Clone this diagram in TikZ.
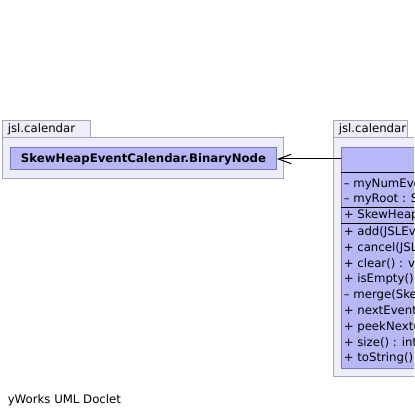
\documentclass[tikz,border=0pt]{standalone}
\usepackage{fontspec}
\setmainfont{DejaVu Sans}
\usepackage{tikz}
\usetikzlibrary{arrows.meta}

\definecolor{pkgfill}{RGB}{238,238,250}
\definecolor{pkgdraw}{RGB}{166,166,190}
\definecolor{clsfill}{RGB}{184,184,248}
\definecolor{clsdraw}{RGB}{120,120,184}

\tikzset{
  pkgshape/.style={draw=pkgdraw, fill=pkgfill, line width=0.75pt},
  clsshape/.style={draw=clsdraw, fill=clsfill, line width=0.75pt},
  classbox/.style={clsshape, inner sep=0pt, font=\fontsize{8.8}{10.5}\selectfont\bfseries},
  member/.style={anchor=west, inner sep=0.75pt, font=\fontsize{8.8}{10.5}\selectfont},
}

\begin{document}
\begin{tikzpicture}[x=0.75pt,y=0.75pt,yscale=-1,xscale=1]
\useasboundingbox (0,0) rectangle (414,416);
\clip (0,0) rectangle (414,416);

%Package: left
\draw [pkgshape] (2.5,120.5) rectangle (90.5,137.5) ;
\draw [pkgshape] (2.5,137.5) rectangle (283.5,178.5) ;
%Package: right
\draw [pkgshape] (333.5,120.5) rectangle (407.5,137.5) ;
\draw [pkgshape] (333.5,137.5) rectangle (760,376.5) ;

%Class: BinaryNode
\node [classbox, anchor=north west, minimum width=199.5pt, minimum height=16.5pt] (binnode) at (10,147.5) {SkewHeapEventCalendar.BinaryNode};

%Class: SkewHeapEventCalendar
\node [classbox, anchor=north west, minimum width=300pt, minimum height=19.5pt] (heapcal) at (341,147) {};
\draw [clsshape] (341,173) rectangle (741,368) ;
\draw [line width=0.75pt] (341,173) -- (741,173) ;
\draw [line width=0.75pt] (341,207) -- (741,207) ;
\draw [line width=0.75pt] (341,223) -- (741,223) ;

%Straight Lines
\draw [line width=0.75pt, -{Straight Barb[length=9.5pt,width=7pt]}] (heapcal.west |- binnode.east) -- (binnode.east) ;

% Text Node
\node [member] (pkgleft) at (6.5,129) {jsl.calendar};
% Text Node
\node [member] (pkgright) at (337.5,129) {jsl.calendar};
% Text Node
\node [member] (fldnum) at (342.5,184) {– myNumEvents : int};
% Text Node
\node [member] (fldroot) at (342.5,199) {– myRoot : SkewHeapEventCalendar.BinaryNode};
% Text Node
\node [member] (ctor) at (342.5,215) {+ SkewHeapEventCalendar()};
% Text Node
\node [member] (madd) at (342.5,232) {+ add(JSLEvent) : void};
% Text Node
\node [member] (mcancel) at (342.5,247.8) {+ cancel(JSLEvent) : void};
% Text Node
\node [member] (mclear) at (342.5,263.6) {+ clear() : void};
% Text Node
\node [member] (mempty) at (342.5,279.4) {+ isEmpty() : boolean};
% Text Node
\node [member] (mmerge) at (342.5,295.2) {– merge(SkewHeapEventCalendar.BinaryNode) : void};
% Text Node
\node [member] (mnext) at (342.5,311) {+ nextEvent() : JSLEvent};
% Text Node
\node [member] (mpeek) at (342.5,326.8) {+ peekNext() : JSLEvent};
% Text Node
\node [member] (msize) at (342.5,342.6) {+ size() : int};
% Text Node
\node [member] (mstring) at (342.5,358.4) {+ toString() : String};
% Text Node
\node [member] (doclet) at (6.5,400) {yWorks UML Doclet};

\end{tikzpicture}
\end{document}
